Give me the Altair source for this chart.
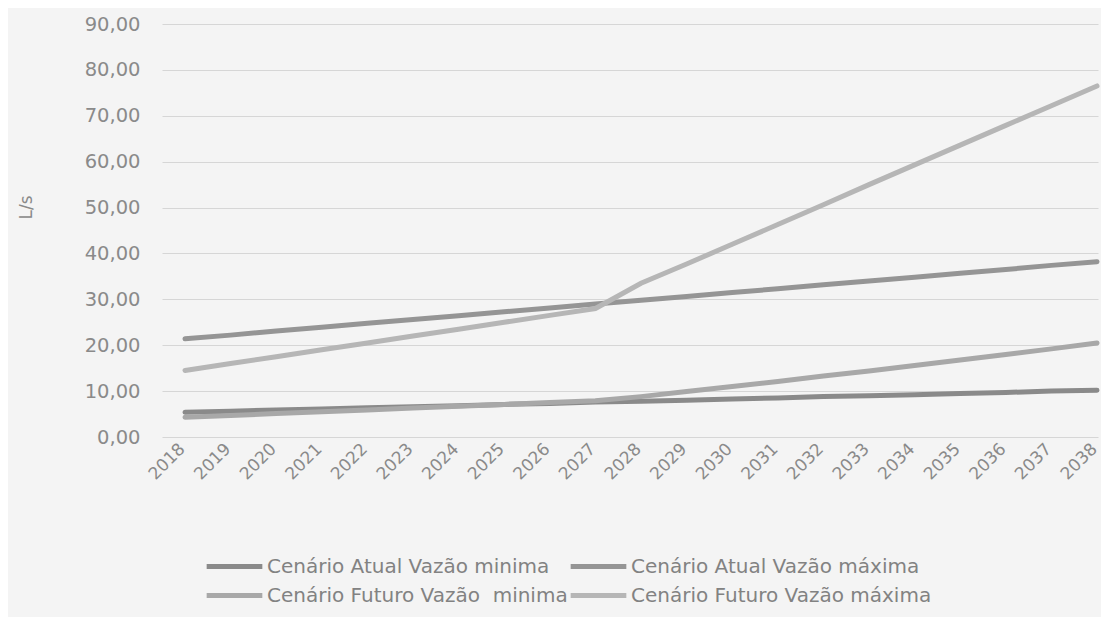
import altair as alt
import pandas as pd

years = list(range(2018, 2039))
series_names = [
    "Cenário Atual Vazão minima",
    "Cenário Atual Vazão máxima",
    "Cenário Futuro Vazão\u00a0 minima",
    "Cenário Futuro Vazão máxima",
]
atual_min = [5.4, 5.6, 5.9, 6.1, 6.4, 6.6, 6.8, 7.1, 7.3, 7.6, 7.8,
             8.0, 8.3, 8.5, 8.8, 9.0, 9.2, 9.5, 9.7, 10.0, 10.2]
atual_max = [21.4, 22.2, 23.1, 23.9, 24.8, 25.6, 26.4, 27.3, 28.1, 29.0, 29.8,
             30.6, 31.5, 32.3, 33.2, 34.0, 34.8, 35.7, 36.5, 37.4, 38.2]
futuro_min = [4.3, 4.7, 5.1, 5.5, 5.9, 6.3, 6.7, 7.1, 7.5, 7.9, 8.8,
              9.9, 11.0, 12.1, 13.3, 14.4, 15.6, 16.8, 18.0, 19.2, 20.5]
futuro_max = [14.5, 16.0, 17.5, 19.0, 20.5, 22.0, 23.5, 25.0, 26.5, 28.0, 33.5,
              37.7, 42.0, 46.3, 50.6, 55.0, 59.3, 63.6, 67.9, 72.2, 76.5]
y_ticks = [0, 10, 20, 30, 40, 50, 60, 70, 80, 90]
colors = ["#8a8a8a", "#959595", "#a8a8a8", "#b6b6b6"]

rows = []
for name, vals in zip(series_names, [atual_min, atual_max, futuro_min, futuro_max]):
    for yr, v in zip(years, vals):
        rows.append({"Ano": yr, "Vazao": v, "Serie": name})
df = pd.DataFrame(rows)

AXFONT = "DejaVu Sans"
LGFONT = "DejaVu Sans"
TXT = "#8a8a8a"

chart = alt.Chart(df).mark_line(strokeWidth=5, strokeCap="round", clip=False).encode(
    x=alt.X("Ano:Q",
            scale=alt.Scale(domain=[2017.496, 2038.022], nice=False, zero=False),
            axis=alt.Axis(values=years, format="d", labelAngle=-45, labelAlign="right",
                          labelBaseline="middle", labelPadding=9, labelOffset=-3,
                          grid=False, ticks=False, domain=False, title=None,
                          labelFont=AXFONT, labelFontSize=17, labelColor=TXT,
                          labelOverlap=False)),
    y=alt.Y("Vazao:Q",
            scale=alt.Scale(domain=[0, 90], nice=False),
            axis=alt.Axis(values=y_ticks, labelExpr="replace(format(datum.value, '.2f'), '.', ',')",
                          grid=True, gridColor="#d6d6d6", gridWidth=1.2, ticks=False, domain=False,
                          labelPadding=22, labelFont=AXFONT, labelFontSize=19.5, labelColor=TXT,
                          title="L/s", titleFont=AXFONT, titleFontSize=17, titleFontWeight="normal",
                          titleColor=TXT, titleX=-127, titleY=183, titleAlign="center")),
    color=alt.Color("Serie:N",
                    scale=alt.Scale(domain=series_names, range=colors),
                    legend=alt.Legend(orient="none", legendX=42, legendY=512, columns=2,
                                      direction="horizontal", gridAlign="none",
                                      columnPadding=-8, rowPadding=-12,
                                      symbolType="stroke", symbolSize=3100, symbolStrokeWidth=5,
                                      labelFont=LGFONT, labelFontSize=20, labelColor="#828282",
                                      labelOffset=2, labelLimit=400, title=None)),
    order=alt.Order("Serie:N"),
).properties(
    width=936, height=413,
    autosize=alt.AutoSizeParams(type="none"),
    padding={"left": 154, "top": 16, "right": 3, "bottom": 180},
    background="#f4f4f4",
).configure_view(stroke=None)

chart.save("out.html", embed_options={"renderer": "svg", "actions": False})
